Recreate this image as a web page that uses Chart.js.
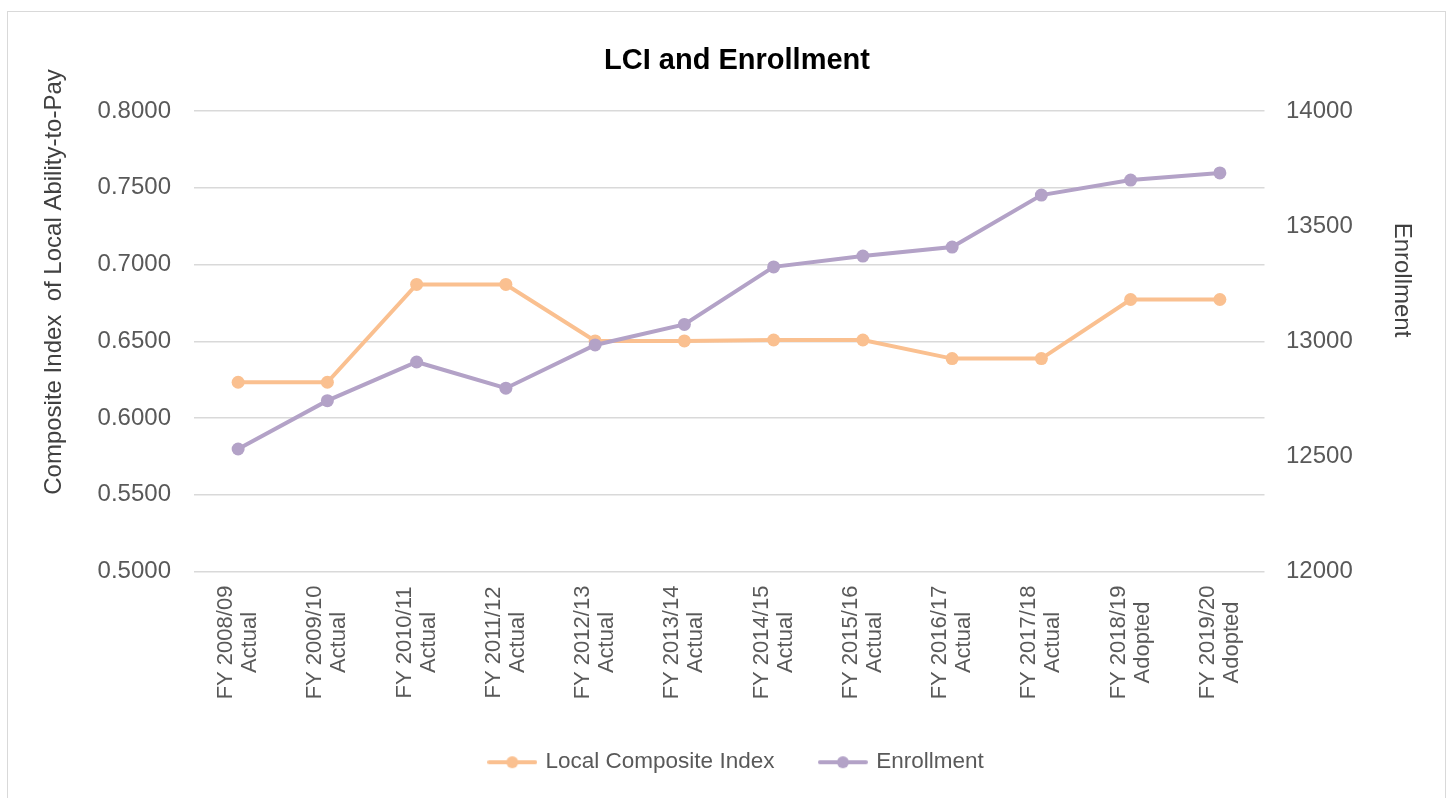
<!DOCTYPE html>
<html>
<head>
<meta charset="utf-8">
<script src="https://cdn.jsdelivr.net/npm/chart.js@4/dist/chart.umd.min.js"></script>
<style>
  html, body { margin:0; padding:0; background:#fff; overflow:hidden; }
  #wrap { position:relative; width:1450px; height:798px; }
  #frame { position:absolute; left:7px; top:11px; width:1437px; height:800px; border:1.5px solid #d9d9d9; pointer-events:none; }
</style>
</head>
<body>
<div id="wrap">
  <canvas id="chart"></canvas>
  <div id="frame"></div>
</div>
<script>
// Data
const years = ['FY 2008/09','FY 2009/10','FY 2010/11','FY 2011/12','FY 2012/13','FY 2013/14',
               'FY 2014/15','FY 2015/16','FY 2016/17','FY 2017/18','FY 2018/19','FY 2019/20'];
const status = ['Actual','Actual','Actual','Actual','Actual','Actual',
                'Actual','Actual','Actual','Actual','Adopted','Adopted'];
const lci = [0.6233, 0.6233, 0.6870, 0.6870, 0.6502, 0.6502, 0.6508, 0.6508, 0.6387, 0.6387, 0.6772, 0.6772];
const enrollment = [12532, 12742, 12910, 12796, 12984, 13073, 13323, 13370, 13409, 13635, 13700, 13731];
const lciTicks = { min: 0.5, max: 0.8, step: 0.05 };
const enrTicks = { min: 12000, max: 14000, step: 500 };

const FONT = '"Liberation Sans", Arial, sans-serif';
const ORANGE = '#FAC090';
const PURPLE = '#B3A2C7';
const TXT = '#595959';

// legend marker: short line with a dot
function marker(color) {
  const c = document.createElement('canvas');
  c.width = 50; c.height = 14;
  const g = c.getContext('2d');
  g.strokeStyle = color; g.lineWidth = 4; g.lineCap = 'round';
  g.beginPath(); g.moveTo(2, 7); g.lineTo(48, 7); g.stroke();
  g.fillStyle = color;
  g.beginPath(); g.arc(25, 7, 6, 0, Math.PI * 2); g.fill();
  return c;
}

// axis titles + two-line centered category labels
const extraText = {
  id: 'extraText',
  afterDraw(chart) {
    const { ctx, scales } = chart;
    const x = scales.x;
    ctx.save();
    ctx.fillStyle = TXT;
    ctx.textAlign = 'center';
    ctx.textBaseline = 'middle';

    ctx.font = '22px ' + FONT;
    chart.data.labels.forEach((lab, i) => {
      const px = x.getPixelForTick(i);
      lab.forEach((line, j) => {
        ctx.save();
        ctx.translate(px + (j - (lab.length - 1) / 2) * 24, x.top + 71);
        ctx.rotate(-Math.PI / 2);
        ctx.fillText(line, 0, 0);
        ctx.restore();
      });
    });

    ctx.fillStyle = '#404040';
    ctx.font = '24px ' + FONT;
    ctx.save();
    ctx.translate(54, 282);
    ctx.rotate(-Math.PI / 2);
    ctx.fillText('Composite Index  of Local Ability-to-Pay', 0, 0);
    ctx.restore();

    ctx.save();
    ctx.translate(1402, 280);
    ctx.rotate(Math.PI / 2);
    ctx.fillText('Enrollment', 0, 0);
    ctx.restore();
    ctx.restore();
  }
};

new Chart(document.getElementById('chart'), {
  type: 'line',
  data: {
    labels: years.map((y, i) => [y, status[i]]),
    datasets: [
      {
        label: 'Local Composite Index',
        data: lci,
        yAxisID: 'y',
        borderColor: ORANGE, backgroundColor: ORANGE,
        borderWidth: 4, pointRadius: 6.5, pointHoverRadius: 6.5,
        pointBorderWidth: 0, tension: 0, order: 1
      },
      {
        label: 'Enrollment',
        data: enrollment,
        yAxisID: 'y1',
        borderColor: PURPLE, backgroundColor: PURPLE,
        borderWidth: 4, pointRadius: 6.5, pointHoverRadius: 6.5,
        pointBorderWidth: 0, tension: 0, order: 0
      }
    ]
  },
  options: {
    responsive: true, maintainAspectRatio: false, animation: false,
    layout: { padding: { left: 24, right: 0, top: 0, bottom: 14.5 } },
    plugins: {
      tooltip: { enabled: false },
      title: {
        display: true, text: 'LCI and Enrollment', color: '#000',
        font: { family: FONT, size: 29, weight: 'bold' },
        padding: { top: 44, bottom: 32.2 }
      },
      legend: {
        position: 'bottom',
        labels: {
          usePointStyle: true, pointStyleWidth: 44, padding: 46.5,
          color: TXT, font: { family: FONT, size: 22.5 },
          sort: (a, b) => a.datasetIndex - b.datasetIndex,
          generateLabels: chart => Chart.defaults.plugins.legend.labels.generateLabels(chart)
            .map(l => Object.assign(l, { pointStyle: marker(l.datasetIndex === 0 ? ORANGE : PURPLE) }))
        }
      }
    },
    scales: {
      x: {
        offset: true,
        grid: { display: false },
        border: { display: false },
        ticks: { display: false },
        afterFit: s => { s.height = 133; }
      },
      y: {
        position: 'left',
        min: lciTicks.min, max: lciTicks.max,
        grid: { color: '#d9d9d9', lineWidth: 1.5, drawTicks: false },
        border: { display: false },
        ticks: {
          stepSize: lciTicks.step, padding: 22.5, color: TXT,
          font: { family: FONT, size: 24 },
          callback: v => Number(v).toFixed(4)
        },
        afterFit: s => { s.width = 169.5; }
      },
      y1: {
        position: 'right',
        min: enrTicks.min, max: enrTicks.max,
        grid: { drawOnChartArea: false, drawTicks: false },
        border: { display: false },
        ticks: {
          stepSize: enrTicks.step, padding: 21.5, color: TXT,
          font: { family: FONT, size: 24 },
          callback: v => String(v)
        },
        afterFit: s => { s.width = 185.5; }
      }
    }
  },
  plugins: [extraText]
});
</script>
</body>
</html>
